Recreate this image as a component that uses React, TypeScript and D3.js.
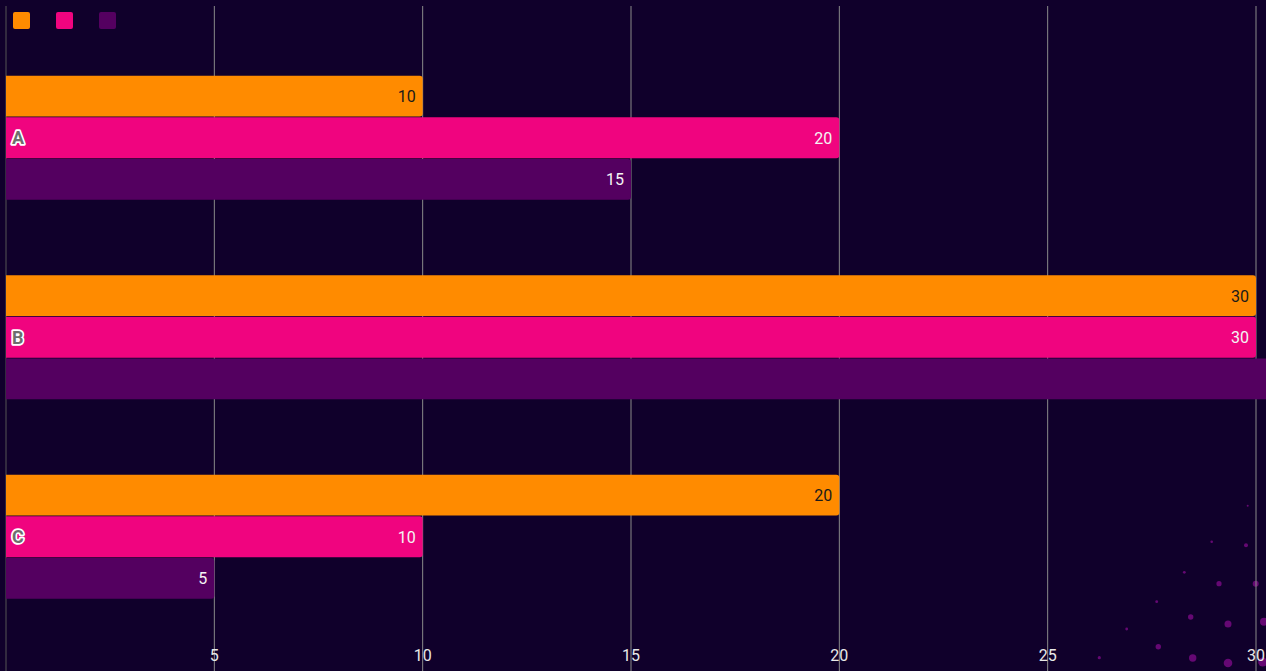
import React from "react";
import * as d3 from "d3";

const categories = ["A", "B", "C"];
const seriesKeys = ["s1", "s2", "s3"];
const seriesColors = ["#ff8b00", "#f0047f", "#540060"];
const labelColors = ["#1a1a1a", "#f4f4f4", "#f4f4f4"];
const series1 = [10, 30, 20];
const series2 = [20, 30, 10];
const series3 = [15, 35, 5];
const xTicks = [5, 10, 15, 20, 25, 30];
const dots: [number, number, number][] = [
  [1247.7, 505.7, 1], [1211.7, 541.7, 1.3], [1246, 545.3, 2], [1184.3, 572.3, 1.4],
  [1219, 583.7, 2.6], [1255.7, 583.7, 3], [1156.7, 601.7, 1.4], [1190.7, 617, 2.7],
  [1228, 624, 3.5], [1264, 621.7, 4], [1126.7, 629, 1.4], [1158.3, 646.7, 2.7],
  [1192.7, 658, 3.7], [1228, 663, 4.3], [1262.7, 662, 4.5], [1099.3, 657.7, 1.6],
];

const W = 1266;
const H = 671;

export default function App() {
  const values = [series1, series2, series3];
  const x = d3.scaleLinear().domain([0, 30]).range([6, 1256]);
  const y = d3
    .scaleBand<string>()
    .domain(categories)
    .range([38, 636.5])
    .paddingInner(0.37)
    .paddingOuter(0.185);
  const yInner = d3
    .scaleBand<string>()
    .domain(seriesKeys)
    .range([0, y.bandwidth()])
    .padding(0.02);

  return (
    <svg
      width={W}
      height={H}
      style={{ position: "absolute", left: 0, top: 0, background: "#10002b", display: "block" }}
      fontFamily="Roboto, sans-serif"
    >
      <rect x={0} y={0} width={W} height={H} fill="#10002b" />
      {dots.map(([cx, cy, r], i) => (
        <circle key={i} cx={cx} cy={cy} r={r} fill="#7a0a86" opacity={0.8} />
      ))}
      <line x1={x(0)} x2={x(0)} y1={6} y2={H} stroke="#555" strokeWidth={1} />
      {xTicks.map((t) => (
        <g key={t}>
          <line x1={x(t)} x2={x(t)} y1={6} y2={H} stroke="#8a8a8a" strokeWidth={1} />
          <text x={x(t)} y={661} textAnchor="middle" fontSize={16} fill="#e8e8e8">
            {t}
          </text>
        </g>
      ))}
      {categories.map((c, ci) => (
        <g key={c} transform={`translate(0,${y(c)})`}>
          {seriesKeys.map((k, si) => {
            const v = values[si][ci];
            const by = yInner(k)!;
            const bh = yInner.bandwidth();
            return (
              <g key={k}>
                <path
                  d={`M${x(0)},${by}H${x(v) - 3}Q${x(v)},${by} ${x(v)},${by + 3}V${by + bh - 3}Q${x(v)},${by + bh} ${x(v) - 3},${by + bh}H${x(0)}Z`}
                  fill={seriesColors[si]}
                />
                {x(v) <= W && (
                  <text
                    x={x(v) - 7}
                    y={by + bh / 2 + 6}
                    textAnchor="end"
                    fontSize={16}
                    fill={labelColors[si]}
                  >
                    {v}
                  </text>
                )}
              </g>
            );
          })}
          <text
            x={12}
            y={yInner("s2")! + yInner.bandwidth() / 2 + 6.5}
            fontSize={18}
            fontWeight="bold"
            fill="#6e6e6e"
            stroke="#ffffff"
            strokeWidth={3.5}
            strokeLinejoin="round"
            paintOrder="stroke"
          >
            {c}
          </text>
        </g>
      ))}
      {seriesColors.map((col, i) => (
        <rect key={i} x={13 + i * 43} y={12} width={17} height={17} rx={2} fill={col} />
      ))}
    </svg>
  );
}
